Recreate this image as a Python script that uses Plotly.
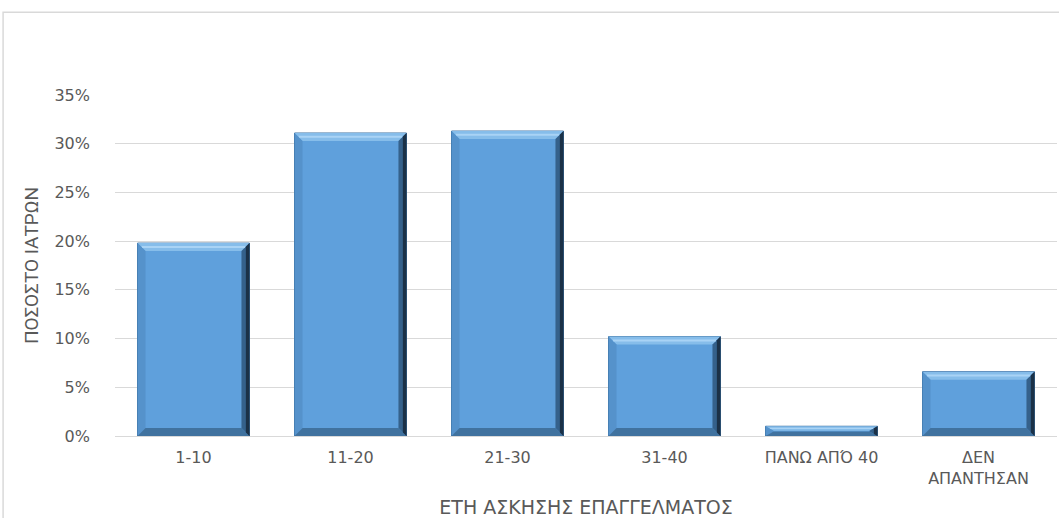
import plotly.graph_objects as go

# Years of practice vs share of responding physicians
categories = ["1-10", "11-20", "21-30", "31-40", "ΠΑΝΩ ΑΠΌ 40", "ΔΕΝ<br>ΑΠΑΝΤΗΣΑΝ"]
shares = [0.198, 0.311, 0.313, 0.102, 0.010, 0.066]
y_ticks = [0, 0.05, 0.10, 0.15, 0.20, 0.25, 0.30, 0.35]

Y_MAX = 0.35
BAR_GAP = 0.287
HALF_W = (1 - BAR_GAP) / 2

# Plot-area geometry (pixels), used to turn the bevel thickness into axis units
PLOT_W = 942.0
PLOT_H = 341.0
BEVEL_PX = 8.0
bx = BEVEL_PX * 6.0 / PLOT_W          # x axis spans 6 categories
by_full = BEVEL_PX * Y_MAX / PLOT_H

fig = go.Figure()
fig.add_trace(go.Bar(
    x=list(range(len(categories))),
    y=shares,
    marker=dict(color="#5fa0dc", line=dict(color="#3a6e9f", width=1)),
    hoverinfo="x+y",
))


def poly(pts):
    return "M " + " L ".join(f"{px},{py}" for px, py in pts) + " Z"


# Bevelled faces around each bar, built from the bar values
shapes = []
for i, v in enumerate(shares):
    by = min(by_full, v / 2.2)
    x0, x1 = i - HALF_W, i + HALF_W
    faces = [
        # top (light)
        ([(x0, v), (x1, v), (x1 - bx, v - by), (x0 + bx, v - by)], "#86bdea"),
        # left
        ([(x0, v), (x0 + bx, v - by), (x0 + bx, by), (x0, 0)], "#5592cb"),
        # bottom
        ([(x0, 0), (x0 + bx, by), (x1 - bx, by), (x1, 0)], "#40729f"),
        # right (dark)
        ([(x1, v), (x1, 0), (x1 - bx, by), (x1 - bx, v - by)], "#35618b"),
    ]
    for pts, col in faces:
        shapes.append(dict(type="path", xref="x", yref="y", path=poly(pts),
                           fillcolor=col, line=dict(width=0), layer="above"))
    # highlight line along the top face
    hl = [(x0 + bx * 0.5, v - by * 0.35), (x1 - bx * 0.5, v - by * 0.35),
          (x1 - bx * 0.6, v - by * 0.6), (x0 + bx * 0.6, v - by * 0.6)]
    shapes.append(dict(type="path", xref="x", yref="y", path=poly(hl),
                       fillcolor="#a9d3f5", line=dict(width=0), layer="above"))
    # darker outer strip on the right edge
    strip = [(x1, v), (x1, 0), (x1 - bx * 0.45, by * 0.45), (x1 - bx * 0.45, v - by * 0.45)]
    shapes.append(dict(type="path", xref="x", yref="y", path=poly(strip),
                       fillcolor="#1b3147", line=dict(width=0), layer="above"))

# Outer chart frame
shapes.append(dict(type="rect", xref="paper", yref="paper",
                   x0=-0.1188, x1=1.2, y0=-0.6, y1=1.243,
                   line=dict(color="#d9d9d9", width=1.5), fillcolor="rgba(0,0,0,0)",
                   layer="below"))

fig.update_layout(
    width=1059,
    height=518,
    margin=dict(l=115, r=2, t=95, b=82),
    paper_bgcolor="white",
    plot_bgcolor="white",
    bargap=BAR_GAP,
    showlegend=False,
    shapes=shapes,
    font=dict(family="DejaVu Sans, Open Sans, sans-serif", color="#595959"),
    xaxis=dict(
        tickmode="array",
        tickvals=list(range(len(categories))),
        ticktext=categories,
        range=[-0.5, len(categories) - 0.5],
        showgrid=False,
        showline=True,
        linecolor="#d9d9d9",
        linewidth=1,
        ticks="",
        tickfont=dict(size=16, color="#595959"),
        ticklabelstandoff=7,
        title=dict(text="ΕΤΗ ΑΣΚΗΣΗΣ ΕΠΑΓΓΕΛΜΑΤΟΣ",
                   font=dict(size=19, color="#595959"), standoff=13),
    ),
    yaxis=dict(
        range=[0, Y_MAX],
        tickvals=y_ticks,
        tickformat=".0%",
        showgrid=True,
        gridcolor="#d9d9d9",
        gridwidth=1,
        zeroline=False,
        showline=False,
        ticks="",
        tickfont=dict(size=16, color="#595959"),
        ticklabelstandoff=24,
        title=dict(text="ΠΟΣΟΣΤΟ ΙΑΤΡΩΝ",
                   font=dict(family="Liberation Sans Narrow, Roboto, sans-serif",
                             size=19, color="#595959"),
                   standoff=10),
    ),
)

fig.write_html("out.html")
